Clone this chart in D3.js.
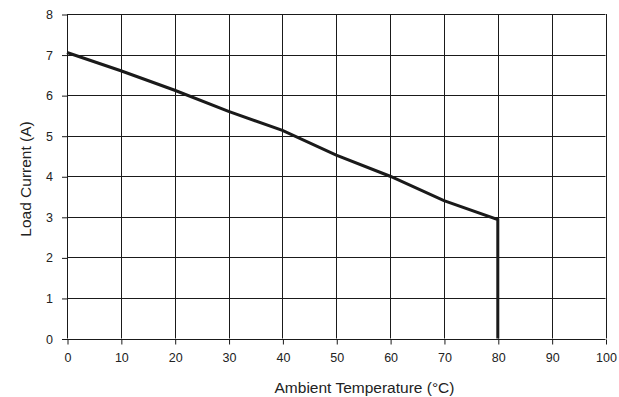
<!DOCTYPE html>
<html>
<head>
<meta charset="utf-8">
<script src="https://cdn.jsdelivr.net/npm/d3@7"></script>
<style>
  body { margin: 0; background: #fff; }
  text { font-family: "Liberation Sans", Arial, sans-serif; fill: #222; }
</style>
</head>
<body>
<svg id="chart" width="619" height="397"></svg>
<script>
// derating curve
const temps = [0, 10, 20, 30, 40, 50, 60, 70, 80, 80];
const currents = [7.05, 6.6, 6.12, 5.6, 5.13, 4.52, 4.0, 3.4, 2.93, 0];
const xTicks = [0, 10, 20, 30, 40, 50, 60, 70, 80, 90, 100];
const yTicks = [0, 1, 2, 3, 4, 5, 6, 7, 8];

const svg = d3.select('#chart');
const plotLeft = 67, plotRight = 605.5, plotTop = 14, plotBottom = 338.5;

const x = d3.scaleLinear().domain([0, 100]).range([plotLeft, plotRight]);
const y = d3.scaleLinear().domain([0, 8]).range([plotBottom, plotTop]);

// grid
svg.append('g')
  .selectAll('line')
  .data(xTicks)
  .enter()
  .append('line')
  .attr('x1', d => Math.round(x(d)) + 0.5)
  .attr('x2', d => Math.round(x(d)) + 0.5)
  .attr('y1', plotTop)
  .attr('y2', plotBottom)
  .attr('stroke', '#1a1a1a')
  .attr('stroke-width', 1);

svg.append('g')
  .selectAll('line')
  .data(yTicks)
  .enter()
  .append('line')
  .attr('x1', plotLeft)
  .attr('x2', plotRight)
  .attr('y1', d => Math.round(y(d)) + 0.5)
  .attr('y2', d => Math.round(y(d)) + 0.5)
  .attr('stroke', '#1a1a1a')
  .attr('stroke-width', 1);

// axes
const xAxis = svg.append('g')
  .attr('transform', `translate(0.5,${Math.round(plotBottom) + 0.5})`)
  .call(d3.axisBottom(x).tickValues(xTicks).tickSize(5).tickPadding(9).tickFormat(d3.format('d')));
const yAxis = svg.append('g')
  .attr('transform', `translate(${plotLeft},0.5)`)
  .call(d3.axisLeft(y).tickValues(yTicks).tickSize(5).tickPadding(9).tickFormat(d3.format('d')));

[xAxis, yAxis].forEach(a => {
  a.select('.domain').remove();
  a.selectAll('line').attr('stroke', '#1a1a1a');
  a.selectAll('text').attr('font-size', 12.5).attr('fill', '#222')
    .style('font-family', '"Liberation Sans", Arial, sans-serif');
});
xAxis.selectAll('.tick line').attr('transform', 'translate(0,0)');

// curve
const line = d3.line()
  .x((d, i) => x(temps[i]))
  .y(d => y(d));

svg.append('path')
  .datum(currents)
  .attr('d', line)
  .attr('fill', 'none')
  .attr('stroke', '#1a1a1a')
  .attr('stroke-width', 3)
  .attr('stroke-linejoin', 'miter');

// axis titles
svg.append('text')
  .attr('x', 364.5)
  .attr('y', 393)
  .attr('text-anchor', 'middle')
  .attr('font-size', 15.5)
  .text('Ambient Temperature (°C)');

svg.append('text')
  .attr('transform', 'translate(31,179) rotate(-90)')
  .attr('text-anchor', 'middle')
  .attr('font-size', 15.5)
  .text('Load Current (A)');
</script>
</body>
</html>
